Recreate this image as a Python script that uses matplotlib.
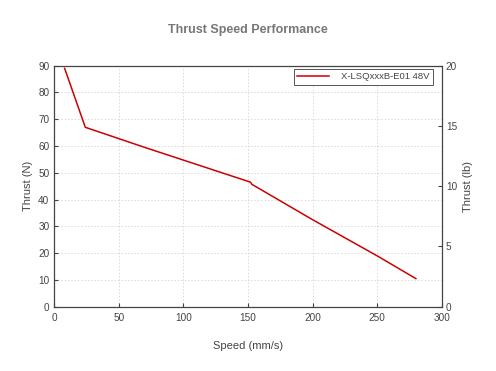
"""Thrust vs speed curve for the X-LSQxxxB-E01 48V actuator."""

import matplotlib

matplotlib.use("Agg")
import matplotlib.pyplot as plt

SPEED_MM_S = [8, 24, 70, 152, 153, 200, 250, 280]
THRUST_N = [89.0, 67.0, 59.5, 46.5, 45.7, 32.5, 19.0, 10.5]
SERIES_LABEL = "X-LSQxxxB-E01 48V"

X_TICKS = [0, 50, 100, 150, 200, 250, 300]
Y_TICKS_N = [0, 10, 20, 30, 40, 50, 60, 70, 80, 90]
Y_TICKS_LB = [0, 5, 10, 15, 20]

LINE_COLOUR = "#cc0000"
TEXT_COLOUR = "#444444"
TITLE_COLOUR = "#777777"
GRID_COLOUR = "#d8d8d8"

plt.rcParams["font.family"] = ["Liberation Sans", "DejaVu Sans"]

fig = plt.figure(figsize=(4.96, 3.71), dpi=100, facecolor="white")
ax = fig.add_axes([0.1095, 0.1733, 0.781, 0.6496])

ax.plot(SPEED_MM_S, THRUST_N, color=LINE_COLOUR, linewidth=1.1, label=SERIES_LABEL)
ax.set_xlim(0, 300)
ax.set_ylim(0, 90)
ax.set_xticks(X_TICKS)
ax.set_yticks(Y_TICKS_N)
ax.grid(True, color=GRID_COLOUR, linestyle=(0, (2, 2)), linewidth=0.6)
ax.set_axisbelow(True)
ax.tick_params(labelsize=7.2, colors=TEXT_COLOUR, direction="in", length=3)
ax.tick_params(axis="x", pad=4.5)
for spine in ax.spines.values():
    spine.set_color("#444444")
    spine.set_linewidth(0.9)

ax.set_ylabel("Thrust (N)", fontsize=8, color=TEXT_COLOUR)
ax.set_xlabel("Speed (mm/s)", fontsize=8, color=TEXT_COLOUR, labelpad=13)

ax_lb = ax.twinx()
ax_lb.set_ylim(0, 20)
ax_lb.set_yticks(Y_TICKS_LB)
ax_lb.tick_params(labelsize=7.2, colors=TEXT_COLOUR, direction="in", length=3, pad=3)
ax_lb.set_ylabel("Thrust (lb)", fontsize=8, color=TEXT_COLOUR)
for spine in ax_lb.spines.values():
    spine.set_visible(False)

legend = ax.legend(loc="upper right", fontsize=6.8, fancybox=False, framealpha=1,
                   edgecolor="#555555", borderaxespad=0.3, handlelength=3.4,
                   handletextpad=1.2, borderpad=0.4, bbox_to_anchor=(0.985, 1.0))
legend.get_frame().set_linewidth(0.7)
for text in legend.get_texts():
    text.set_color(TEXT_COLOUR)

fig.text(0.5, 0.92, "Thrust Speed Performance", ha="center", va="center",
         fontsize=9, fontweight="bold", color=TITLE_COLOUR)

fig.savefig("out.png", dpi=100)
